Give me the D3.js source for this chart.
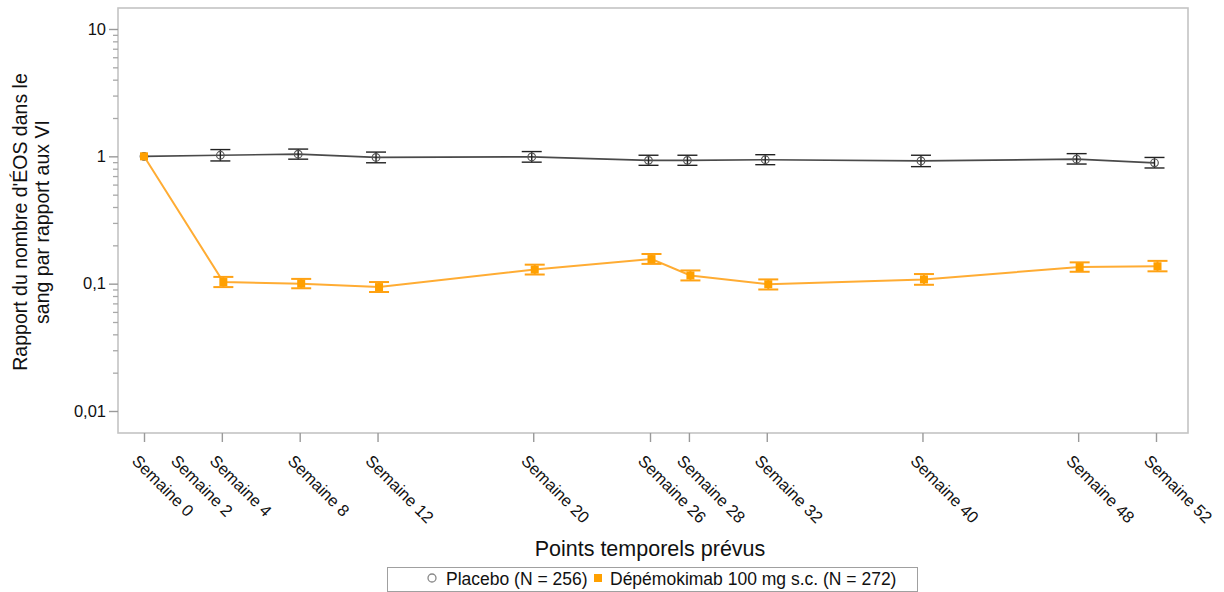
<!DOCTYPE html>
<html>
<head>
<meta charset="utf-8">
<script src="https://cdn.jsdelivr.net/npm/d3@7/dist/d3.min.js"></script>
<style>
  html, body { margin: 0; padding: 0; background: #fff; }
  svg { display: block; font-family: "Liberation Sans", Arial, sans-serif; }
</style>
</head>
<body>
<svg id="chart" width="1224" height="592"></svg>
<script>
// Scheduled visits (weeks)
const weeks = [0, 4, 8, 12, 20, 26, 28, 32, 40, 48, 52];
// Axis tick labels (week 2 is labelled but has no visit)
const labelWeeks = [0, 2, 4, 8, 12, 20, 26, 28, 32, 40, 48, 52];
const yTicks = [0.01, 0.1, 1, 10];
const yTickLabels = ["0,01", "0,1", "1", "10"];

// Ratio to baseline of blood eosinophil count, with 95% CI
const placeboMean  = [1.00, 1.02, 1.04, 0.98, 0.99, 0.93, 0.93, 0.94, 0.92, 0.95, 0.89];
const placeboLower = [null, 0.92, 0.95, 0.89, 0.90, 0.85, 0.85, 0.86, 0.83, 0.87, 0.81];
const placeboUpper = [null, 1.13, 1.14, 1.08, 1.09, 1.02, 1.02, 1.03, 1.02, 1.05, 0.98];

const depMean  = [1.00, 0.103, 0.100, 0.094, 0.129, 0.156, 0.116, 0.099, 0.108, 0.135, 0.137];
const depLower = [null, 0.094, 0.092, 0.086, 0.118, 0.143, 0.106, 0.090, 0.098, 0.124, 0.125];
const depUpper = [null, 0.113, 0.109, 0.103, 0.141, 0.171, 0.127, 0.108, 0.119, 0.147, 0.151];

const seriesNames = ["Placebo (N = 256)", "Dépémokimab 100 mg s.c. (N = 272)"];

const svg = d3.select("#chart");
const frame = { left: 118, right: 1188, top: 8, bottom: 433 };

const x = d3.scaleLinear().domain([0, 52]).range([144, 1156]);
const y = d3.scaleLog().domain([0.01, 10]).range([411, 29]);

// Plot frame
svg.append("rect")
  .attr("x", frame.left).attr("y", frame.top)
  .attr("width", frame.right - frame.left).attr("height", frame.bottom - frame.top)
  .attr("fill", "none").attr("stroke", "#c4c4c4").attr("stroke-width", 1.6);

// Y axis: major ticks with labels, minor ticks for 2..9 of each decade
const minor = [];
[0.01, 0.1, 1].forEach(d => { for (let k = 2; k <= 9; k++) minor.push(+(d * k).toPrecision(3)); });

const yAxis = d3.axisLeft(y)
  .tickValues(yTicks)
  .tickFormat((d, i) => yTickLabels[i])
  .tickSize(9).tickPadding(3);
const gy = svg.append("g").attr("transform", `translate(${frame.left},0)`).call(yAxis);
gy.select(".domain").remove();
gy.selectAll(".tick line").attr("stroke", "#9a9a9a").attr("stroke-width", 1.4);
gy.selectAll(".tick text").attr("font-size", 16.5).attr("fill", "#111");

const gyMinor = svg.append("g").attr("transform", `translate(${frame.left},0)`)
  .call(d3.axisLeft(y).tickValues(minor).tickFormat("").tickSize(5));
gyMinor.select(".domain").remove();
gyMinor.selectAll(".tick line").attr("stroke", "#a8a8a8").attr("stroke-width", 1.3);

// X axis ticks at each visit
const gx = svg.append("g").attr("transform", `translate(0,${frame.bottom})`)
  .call(d3.axisBottom(x).tickValues(weeks).tickFormat("").tickSize(9));
gx.select(".domain").remove();
gx.selectAll(".tick line").attr("stroke", "#9a9a9a").attr("stroke-width", 1.4);

// Rotated x labels
svg.append("g").selectAll("text").data(labelWeeks).join("text")
  .attr("transform", d => `translate(${x(d) - 13},${frame.bottom + 29}) rotate(45)`)
  .attr("font-size", 16.5).attr("fill", "#111")
  .text(d => "Semaine " + d);

// Axis titles
svg.append("text")
  .attr("x", 650).attr("y", 556).attr("text-anchor", "middle")
  .attr("font-size", 21.5).attr("fill", "#111")
  .text("Points temporels prévus");

const yTitle = svg.append("text")
  .attr("transform", "translate(27,222) rotate(-90)")
  .attr("text-anchor", "middle").attr("font-size", 19.5).attr("fill", "#111");
yTitle.append("tspan").attr("x", 0).attr("dy", 0).text("Rapport du nombre d'ÉOS dans le");
yTitle.append("tspan").attr("x", 0).attr("dy", 22).text("sang par rapport aux VI");

// Series
const series = [
  { mean: placeboMean, lo: placeboLower, hi: placeboUpper, dx: -1.5,
    line: "#4a4a4a", lineW: 1.7, bar: "#222", barW: 1.4, kind: "circle" },
  { mean: depMean, lo: depLower, hi: depUpper, dx: 1.5,
    line: "#ffac33", lineW: 2, bar: "#ffa214", barW: 2, kind: "square" }
];

const lineGen = d3.line().x(d => d.x).y(d => d.y);

series.forEach(s => {
  const pts = weeks.map((w, i) => ({
    x: x(w) + (i === 0 ? 0 : s.dx), y: y(s.mean[i]),
    lo: s.lo[i], hi: s.hi[i]
  }));
  const g = svg.append("g");
  g.append("path").attr("d", lineGen(pts))
    .attr("fill", "none").attr("stroke", s.line).attr("stroke-width", s.lineW);

  const bars = pts.filter(p => p.lo !== null);
  // stems
  g.selectAll(".stem").data(bars).join("line")
    .attr("x1", p => p.x).attr("x2", p => p.x)
    .attr("y1", p => y(p.lo)).attr("y2", p => y(p.hi))
    .attr("stroke", s.bar).attr("stroke-width", s.barW);
  // caps
  ["lo", "hi"].forEach(k => {
    g.selectAll(".cap-" + k).data(bars).join("line")
      .attr("x1", p => p.x - 10).attr("x2", p => p.x + 10)
      .attr("y1", p => y(p[k])).attr("y2", p => y(p[k]))
      .attr("stroke", s.bar).attr("stroke-width", s.barW);
  });

  if (s.kind === "circle") {
    g.selectAll(".mk").data(pts).join("circle")
      .attr("cx", p => p.x).attr("cy", p => p.y).attr("r", 3.8)
      .attr("fill", "none").attr("stroke", "#555").attr("stroke-width", 1.2);
  } else {
    g.selectAll(".mk").data(pts).join("rect")
      .attr("x", p => p.x - 4).attr("y", p => p.y - 4)
      .attr("width", 8).attr("height", 8).attr("fill", "#ffa000");
  }
});

// Legend
const lg = svg.append("g");
lg.append("rect").attr("x", 387.5).attr("y", 567.5).attr("width", 530).attr("height", 24)
  .attr("fill", "#fff").attr("stroke", "#a0a0a0").attr("stroke-width", 1);
lg.append("circle").attr("cx", 432).attr("cy", 578).attr("r", 4)
  .attr("fill", "none").attr("stroke", "#888").attr("stroke-width", 1.3);
lg.append("text").attr("x", 446).attr("y", 585).attr("font-size", 17.5).attr("fill", "#111")
  .text(seriesNames[0]);
lg.append("rect").attr("x", 594).attr("y", 574).attr("width", 8).attr("height", 8).attr("fill", "#ffa000");
lg.append("text").attr("x", 610).attr("y", 585).attr("font-size", 17.5).attr("fill", "#111")
  .text(seriesNames[1]);
</script>
</body>
</html>
